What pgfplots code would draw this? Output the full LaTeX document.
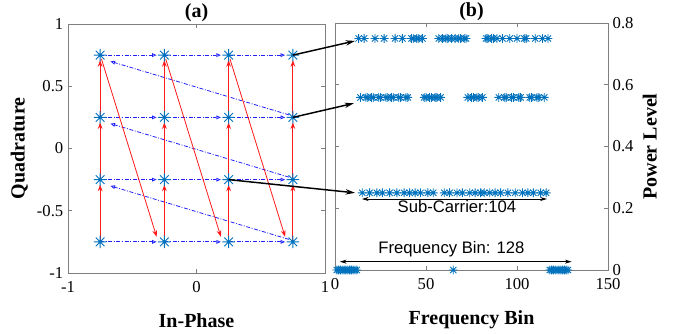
\documentclass[border=0pt]{standalone}
\usepackage{pgfplots}
\pgfplotsset{compat=1.18}
\usepackage{fontspec}
\setmainfont{Liberation Serif}
\setsansfont{Liberation Sans}
\usetikzlibrary{arrows.meta}
\definecolor{mblue}{HTML}{0072BD}
\definecolor{axgray}{HTML}{7F7F7F}
\definecolor{pblue}{HTML}{2020FF}
\pgfdeclareplotmark{mstar}{%
  \pgfpathmoveto{\pgfqpoint{-\pgfplotmarksize}{0pt}}\pgfpathlineto{\pgfqpoint{\pgfplotmarksize}{0pt}}%
  \pgfpathmoveto{\pgfqpoint{0pt}{-\pgfplotmarksize}}\pgfpathlineto{\pgfqpoint{0pt}{\pgfplotmarksize}}%
  \pgfpathmoveto{\pgfqpoint{-0.7071\pgfplotmarksize}{-0.7071\pgfplotmarksize}}\pgfpathlineto{\pgfqpoint{0.7071\pgfplotmarksize}{0.7071\pgfplotmarksize}}%
  \pgfpathmoveto{\pgfqpoint{-0.7071\pgfplotmarksize}{0.7071\pgfplotmarksize}}\pgfpathlineto{\pgfqpoint{0.7071\pgfplotmarksize}{-0.7071\pgfplotmarksize}}%
  \pgfusepathqstroke}
\pgfplotstableread{
k lev
1 0
2 0
3 0
4 0
5 0
6 0
7 0
8 0
9 0
10 0
11 0
12 0
13 0.75
14 0.559
15 0.25
16 0.75
17 0.559
18 0.559
19 0.25
20 0.559
21 0.559
22 0.75
23 0.25
24 0.559
25 0.559
26 0.25
27 0.75
28 0.559
29 0.559
30 0.25
31 0.559
32 0.559
33 0.75
34 0.25
35 0.559
36 0.559
37 0.75
38 0.25
39 0.559
40 0.559
41 0.25
42 0.75
43 0.75
44 0.25
45 0.75
46 0.75
47 0.25
48 0.75
49 0.559
50 0.559
51 0.25
52 0.559
53 0.559
54 0.25
55 0.559
56 0.559
57 0.75
58 0.559
59 0.75
60 0.25
61 0.75
62 0.75
63 0.25
64 0.75
65 0
66 0.75
67 0.25
68 0.75
69 0.75
70 0.25
71 0.75
72 0.75
73 0.559
74 0.25
75 0.559
76 0.559
77 0.25
78 0.559
79 0.559
80 0.25
81 0.559
82 0.25
83 0.75
84 0.75
85 0.25
86 0.75
87 0.75
88 0.25
89 0.75
90 0.559
91 0.25
92 0.75
93 0.559
94 0.559
95 0.25
96 0.75
97 0.559
98 0.559
99 0.25
100 0.75
101 0.559
102 0.559
103 0.25
104 0.75
105 0.75
106 0.25
107 0.559
108 0.559
109 0.25
110 0.75
111 0.559
112 0.559
113 0.25
114 0.75
115 0.559
116 0.25
117 0.75
118 0
119 0
120 0
121 0
122 0
123 0
124 0
125 0
126 0
127 0
128 0
}\spectrum
\pgfplotstableread{
x y
-0.75 -0.75
-0.25 -0.75
0.25 -0.75
0.75 -0.75
-0.75 -0.25
-0.25 -0.25
0.25 -0.25
0.75 -0.25
-0.75 0.25
-0.25 0.25
0.25 0.25
0.75 0.25
-0.75 0.75
-0.25 0.75
0.25 0.75
0.75 0.75
}\constel
\pgfplotsset{
  mstyle/.style={
    scale only axis,
    axis line style={axgray},
    every tick/.style={axgray},
    tick align=inside,
    major tick length=3pt,
    tick label style={font=\fontsize{12.5}{14}\selectfont},
    xticklabel style={yshift=-3pt},
    /pgf/number format/assume math mode=true,
    ylabel near ticks,
    label style={font=\fontsize{15}{18}\selectfont\bfseries},
    xlabel style={yshift=-9pt},
    ylabel style={font=\fontsize{15}{18}\selectfont\bfseries},
    title style={font=\fontsize{15}{18}\selectfont\bfseries, at={(0.5,1)}, anchor=base, yshift=-1pt},
  }
}
\tikzset{
  bl/.style={pblue, line width=0.6pt, dash pattern=on 3pt off 1.2pt on 0.7pt off 1.2pt, -{Triangle[open,length=3.5pt,width=2.8pt]}},
  rd/.style={red!90, line width=0.8pt, -{Stealth[length=5pt,width=3.5pt]}},
}
\begin{document}
\begin{tikzpicture}
\useasboundingbox (0,0) rectangle (507.75pt,249.75pt);
% ---- (a)
\begin{axis}[mstyle,
  at={(51pt,45pt)}, anchor=south west,
  width=192.75pt, height=186.75pt,
  xmin=-1, xmax=1, ymin=-1, ymax=1,
  xtick={-1,0,1}, ytick={-1,-0.5,0,0.5,1},
  yticklabels={-1,-0.5,0,0.5,1},
  xticklabels={-1,0,1},
  title={(a)},
  xlabel={In-Phase}, ylabel={Quadrature},
  clip=false]
% blue dash-dot path
\draw[bl] (axis cs:-0.75,-0.75) -- (axis cs:-0.31,-0.75);
\draw[bl] (axis cs:-0.25,-0.75) -- (axis cs:0.19,-0.75);
\draw[bl] (axis cs:0.25,-0.75) -- (axis cs:0.69,-0.75);
\draw[bl] (axis cs:-0.75,-0.25) -- (axis cs:-0.31,-0.25);
\draw[bl] (axis cs:-0.25,-0.25) -- (axis cs:0.19,-0.25);
\draw[bl] (axis cs:0.25,-0.25) -- (axis cs:0.69,-0.25);
\draw[bl] (axis cs:-0.75,0.25) -- (axis cs:-0.31,0.25);
\draw[bl] (axis cs:-0.25,0.25) -- (axis cs:0.19,0.25);
\draw[bl] (axis cs:0.25,0.25) -- (axis cs:0.69,0.25);
\draw[bl] (axis cs:-0.75,0.75) -- (axis cs:-0.31,0.75);
\draw[bl] (axis cs:-0.25,0.75) -- (axis cs:0.19,0.75);
\draw[bl] (axis cs:0.25,0.75) -- (axis cs:0.69,0.75);
\draw[bl] (axis cs:0.72,-0.73) -- (axis cs:-0.67,-0.30);
\draw[bl] (axis cs:0.72,-0.23) -- (axis cs:-0.67,0.20);
\draw[bl] (axis cs:0.72,0.27) -- (axis cs:-0.67,0.70);
% red path
\draw[rd] (axis cs:-0.75,-0.75) -- (axis cs:-0.75,-0.29);
\draw[rd] (axis cs:-0.75,-0.25) -- (axis cs:-0.75,0.21);
\draw[rd] (axis cs:-0.75,0.25) -- (axis cs:-0.75,0.71);
\draw[rd] (axis cs:-0.25,-0.75) -- (axis cs:-0.25,-0.29);
\draw[rd] (axis cs:-0.25,-0.25) -- (axis cs:-0.25,0.21);
\draw[rd] (axis cs:-0.25,0.25) -- (axis cs:-0.25,0.71);
\draw[rd] (axis cs:0.25,-0.75) -- (axis cs:0.25,-0.29);
\draw[rd] (axis cs:0.25,-0.25) -- (axis cs:0.25,0.21);
\draw[rd] (axis cs:0.25,0.25) -- (axis cs:0.25,0.71);
\draw[rd] (axis cs:0.75,-0.75) -- (axis cs:0.75,-0.29);
\draw[rd] (axis cs:0.75,-0.25) -- (axis cs:0.75,0.21);
\draw[rd] (axis cs:0.75,0.25) -- (axis cs:0.75,0.71);
\draw[rd, line width=0.6pt] (axis cs:-0.74,0.72) -- (axis cs:-0.31,-0.71);
\draw[rd, line width=0.6pt] (axis cs:-0.24,0.72) -- (axis cs:0.19,-0.71);
\draw[rd, line width=0.6pt] (axis cs:0.26,0.72) -- (axis cs:0.69,-0.71);
\addplot[only marks, mark=mstar, mark size=4.6pt, color=mblue, mark options={line width=0.75pt}] table[x=x,y=y] {\constel};
\coordinate (A1) at (axis cs:0.75,0.75);
\coordinate (A2) at (axis cs:0.75,0.25);
\coordinate (A3) at (axis cs:0.25,-0.25);
\end{axis}
% ---- (b)
\begin{axis}[mstyle,
  at={(251.25pt,47.25pt)}, anchor=south west,
  width=204.75pt, height=185.25pt,
  xmin=0, xmax=150, ymin=0, ymax=0.8,
  xtick={0,50,100,150}, ytick={0,0.2,0.4,0.6,0.8},
  yticklabels={0,0.2,0.4,0.6,0.8},
  yticklabel pos=right,
  title={(b)},
  xlabel={Frequency Bin}, ylabel={Power Level},
  clip=false]
\addplot[only marks, mark=mstar, mark size=3.3pt, color=mblue, mark options={line width=0.65pt}] table[x=k,y=lev] {\spectrum};
\draw[black, line width=0.5pt, {Stealth[length=5pt,width=3pt]}-{Stealth[length=5pt,width=3pt]}] (axis cs:14.8,0.23) -- (axis cs:116.4,0.23);
\node[font=\sffamily\fontsize{12.5}{14}\selectfont] at (axis cs:67,0.205) {Sub-Carrier:104};
\draw[black, line width=0.5pt, {Stealth[length=5pt,width=3pt]}-{Stealth[length=5pt,width=3pt]}] (axis cs:2.7,0.027) -- (axis cs:130,0.027);
\node[font=\sffamily\fontsize{12.5}{14}\selectfont] at (axis cs:64,0.066) {Frequency Bin: 128};
\coordinate (B1) at (axis cs:11,0.742);
\coordinate (B2) at (axis cs:10.4,0.54);
\coordinate (B3) at (axis cs:11,0.25);
\end{axis}
\draw[black, line width=1.1pt, -{Stealth[length=7pt,width=4pt]}] (A1) -- (B1);
\draw[black, line width=1.1pt, -{Stealth[length=7pt,width=4pt]}] (A2) -- (B2);
\draw[black, line width=1.1pt, -{Stealth[length=7pt,width=4pt]}] (A3) -- (B3);
\end{tikzpicture}
\end{document}
